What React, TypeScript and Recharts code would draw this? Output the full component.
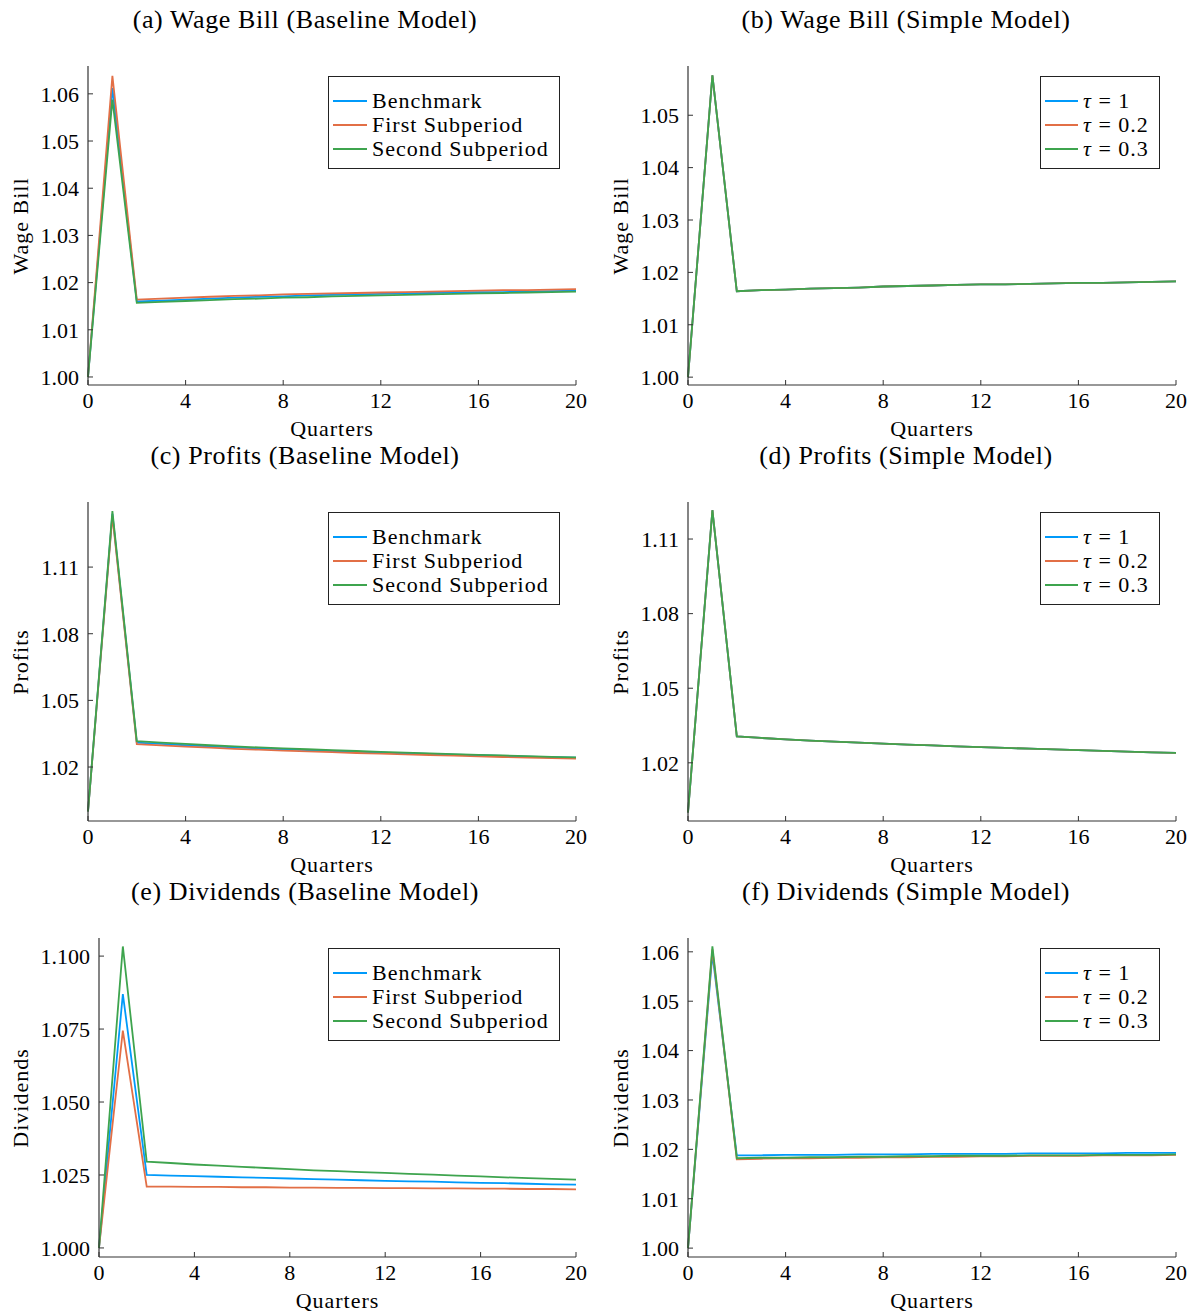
import { LineChart, Line, XAxis, YAxis, Legend } from 'recharts';

// quarters after the shock
const quarters = [0, 1, 2, 3, 4, 5, 6, 7, 8, 9, 10, 11, 12, 13, 14, 15, 16, 17, 18, 19, 20];
const xTicks = [0, 4, 8, 12, 16, 20];

// (a) wage bill, baseline model
const wageBaseBench = [1.0, 1.0612, 1.016, 1.0162, 1.0164, 1.0166, 1.0168, 1.017, 1.0171, 1.0173, 1.0174, 1.0175, 1.0176, 1.0177, 1.0178, 1.0179, 1.018, 1.018, 1.0181, 1.0182, 1.0183];
const wageBaseFirst = [1.0, 1.0638, 1.0164, 1.0166, 1.0168, 1.017, 1.0172, 1.0173, 1.0175, 1.0176, 1.0177, 1.0178, 1.0179, 1.018, 1.0181, 1.0182, 1.0183, 1.0184, 1.0184, 1.0185, 1.0186];
const wageBaseSecond = [1.0, 1.0588, 1.0157, 1.0159, 1.0161, 1.0163, 1.0165, 1.0166, 1.0168, 1.0169, 1.0171, 1.0172, 1.0173, 1.0174, 1.0175, 1.0176, 1.0177, 1.0178, 1.0179, 1.018, 1.0181];

// (b) wage bill, simple model
const wageSimpleTau1 = [1.0, 1.0576, 1.0164, 1.0166, 1.0167, 1.0169, 1.017, 1.0171, 1.0173, 1.0174, 1.0175, 1.0176, 1.0177, 1.0177, 1.0178, 1.0179, 1.018, 1.018, 1.0181, 1.0182, 1.0183];
const wageSimpleTau02 = [1.0, 1.0576, 1.0164, 1.0166, 1.0167, 1.0169, 1.017, 1.0171, 1.0173, 1.0174, 1.0175, 1.0176, 1.0177, 1.0177, 1.0178, 1.0179, 1.018, 1.018, 1.0181, 1.0182, 1.0183];
const wageSimpleTau03 = [1.0, 1.0576, 1.0164, 1.0166, 1.0167, 1.0169, 1.017, 1.0171, 1.0173, 1.0174, 1.0175, 1.0176, 1.0177, 1.0177, 1.0178, 1.0179, 1.018, 1.018, 1.0181, 1.0182, 1.0183];

// (c) profits, baseline model
const profBaseBench = [1.0, 1.134, 1.031, 1.0304, 1.0298, 1.0293, 1.0288, 1.0284, 1.028, 1.0276, 1.0272, 1.0269, 1.0265, 1.0262, 1.0259, 1.0256, 1.0253, 1.025, 1.0247, 1.0244, 1.0242];
const profBaseFirst = [1.0, 1.133, 1.0303, 1.0297, 1.0292, 1.0287, 1.0282, 1.0278, 1.0274, 1.027, 1.0267, 1.0263, 1.026, 1.0257, 1.0254, 1.0251, 1.0248, 1.0245, 1.0242, 1.024, 1.0238];
const profBaseSecond = [1.0, 1.1352, 1.0316, 1.031, 1.0304, 1.0298, 1.0293, 1.0288, 1.0284, 1.028, 1.0276, 1.0272, 1.0268, 1.0265, 1.0261, 1.0258, 1.0255, 1.0252, 1.0249, 1.0246, 1.0243];

// (d) profits, simple model
const profSimpleTau1 = [1.0, 1.1216, 1.0306, 1.03, 1.0294, 1.0289, 1.0285, 1.0281, 1.0277, 1.0273, 1.027, 1.0266, 1.0263, 1.026, 1.0257, 1.0254, 1.0251, 1.0248, 1.0245, 1.0242, 1.024];
const profSimpleTau02 = [1.0, 1.1216, 1.0306, 1.03, 1.0294, 1.0289, 1.0285, 1.0281, 1.0277, 1.0273, 1.027, 1.0266, 1.0263, 1.026, 1.0257, 1.0254, 1.0251, 1.0248, 1.0245, 1.0242, 1.024];
const profSimpleTau03 = [1.0, 1.1216, 1.0306, 1.03, 1.0294, 1.0289, 1.0285, 1.0281, 1.0277, 1.0273, 1.027, 1.0266, 1.0263, 1.026, 1.0257, 1.0254, 1.0251, 1.0248, 1.0245, 1.0242, 1.024];

// (e) dividends, baseline model
const divBaseBench = [1.0, 1.087, 1.025, 1.0248, 1.0246, 1.0244, 1.0242, 1.024, 1.0238, 1.0236, 1.0234, 1.0232, 1.023, 1.0228, 1.0227, 1.0225, 1.0223, 1.0222, 1.022, 1.0218, 1.0217];
const divBaseFirst = [1.0, 1.0745, 1.021, 1.021, 1.0209, 1.0209, 1.0208, 1.0208, 1.0207, 1.0207, 1.0206, 1.0206, 1.0205, 1.0205, 1.0204, 1.0204, 1.0203, 1.0203, 1.0202, 1.0202, 1.0201];
const divBaseSecond = [1.0, 1.1033, 1.0296, 1.0291, 1.0286, 1.0282, 1.0278, 1.0274, 1.027, 1.0266, 1.0263, 1.026, 1.0257, 1.0254, 1.0251, 1.0248, 1.0245, 1.0242, 1.0239, 1.0237, 1.0234];

// (f) dividends, simple model
const divSimpleTau1 = [1.0, 1.0596, 1.0188, 1.0188, 1.0189, 1.0189, 1.0189, 1.019, 1.019, 1.019, 1.0191, 1.0191, 1.0191, 1.0191, 1.0192, 1.0192, 1.0192, 1.0192, 1.0193, 1.0193, 1.0193];
const divSimpleTau02 = [1.0, 1.0605, 1.018, 1.0181, 1.0182, 1.0182, 1.0183, 1.0183, 1.0184, 1.0184, 1.0185, 1.0185, 1.0186, 1.0186, 1.0187, 1.0187, 1.0187, 1.0188, 1.0188, 1.0188, 1.0189];
const divSimpleTau03 = [1.0, 1.0611, 1.0182, 1.0183, 1.0183, 1.0184, 1.0184, 1.0185, 1.0185, 1.0186, 1.0186, 1.0187, 1.0187, 1.0187, 1.0188, 1.0188, 1.0188, 1.0189, 1.0189, 1.0189, 1.019];

const baselineNames = ['Benchmark', 'First Subperiod', 'Second Subperiod'];
const simpleNames = ['τ = 1', 'τ = 0.2', 'τ = 0.3'];

const COLORS = ['#009AFA', '#E26F46', '#3EA44E'];
const FONT = '"Liberation Serif", "Times New Roman", serif';
const AXIS = '#333';

interface PanelSpec {
  col: 0 | 1;
  plotLeft: number;
  plotTop: number;
  plotBottom: number;
  title: string;
  yLabel: string;
  domain: [number, number];
  yTicks: number[];
  digits: number;
  series: number[][];
  names: string[];
  legendWidth: number;
}

const panels: PanelSpec[] = [
  {
    col: 0, plotLeft: 88, plotTop: 66, plotBottom: 385,
    title: '(a) Wage Bill (Baseline Model)', yLabel: 'Wage Bill',
    domain: [0.9983, 1.0659], yTicks: [1.0, 1.01, 1.02, 1.03, 1.04, 1.05, 1.06], digits: 2,
    series: [wageBaseBench, wageBaseFirst, wageBaseSecond], names: baselineNames, legendWidth: 232,
  },
  {
    col: 1, plotLeft: 688, plotTop: 66, plotBottom: 385,
    title: '(b) Wage Bill (Simple Model)', yLabel: 'Wage Bill',
    domain: [0.9985, 1.0594], yTicks: [1.0, 1.01, 1.02, 1.03, 1.04, 1.05], digits: 2,
    series: [wageSimpleTau1, wageSimpleTau02, wageSimpleTau03], names: simpleNames, legendWidth: 120,
  },
  {
    col: 0, plotLeft: 88, plotTop: 502, plotBottom: 821,
    title: '(c) Profits (Baseline Model)', yLabel: 'Profits',
    domain: [0.9957, 1.1393], yTicks: [1.02, 1.05, 1.08, 1.11], digits: 2,
    series: [profBaseBench, profBaseFirst, profBaseSecond], names: baselineNames, legendWidth: 232,
  },
  {
    col: 1, plotLeft: 688, plotTop: 502, plotBottom: 821,
    title: '(d) Profits (Simple Model)', yLabel: 'Profits',
    domain: [0.9966, 1.1249], yTicks: [1.02, 1.05, 1.08, 1.11], digits: 2,
    series: [profSimpleTau1, profSimpleTau02, profSimpleTau03], names: simpleNames, legendWidth: 120,
  },
  {
    col: 0, plotLeft: 99, plotTop: 938, plotBottom: 1257,
    title: '(e) Dividends (Baseline Model)', yLabel: 'Dividends',
    domain: [0.9969, 1.1062], yTicks: [1.0, 1.025, 1.05, 1.075, 1.1], digits: 3,
    series: [divBaseBench, divBaseFirst, divBaseSecond], names: baselineNames, legendWidth: 232,
  },
  {
    col: 1, plotLeft: 688, plotTop: 938, plotBottom: 1257,
    title: '(f) Dividends (Simple Model)', yLabel: 'Dividends',
    domain: [0.9982, 1.0628], yTicks: [1.0, 1.01, 1.02, 1.03, 1.04, 1.05, 1.06], digits: 2,
    series: [divSimpleTau1, divSimpleTau02, divSimpleTau03], names: simpleNames, legendWidth: 120,
  },
];

function legendLabel(value: string) {
  if (value.startsWith('τ')) {
    return (
      <span>
        <span style={{ fontStyle: 'italic' }}>τ</span>
        {value.slice(1)}
      </span>
    );
  }
  return <span>{value}</span>;
}

function Panel({ p }: { p: PanelSpec }) {
  const colX = p.col === 0 ? 0 : 600;
  const colW = p.col === 0 ? 600 : 593;
  const plotRight = p.col === 0 ? 576 : 1176;
  const titleCenter = p.col === 0 ? 305 : 906;
  const boxY = p.plotTop - 20;
  const xAxisH = 40;
  const height = p.plotBottom - boxY + xAxisH;
  const data = quarters.map((q, i) => ({ q, s0: p.series[0][i], s1: p.series[1][i], s2: p.series[2][i] }));
  const legendLeft = (p.col === 0 ? 328 : 1040) - colX;
  const legendTop = p.plotTop + 10 - boxY;

  return (
    <>
      <div
        style={{
          position: 'absolute', left: titleCenter - 300, top: p.plotTop - 59, width: 600,
          textAlign: 'center', fontSize: 26, lineHeight: '26px', letterSpacing: 0.6,
        }}
      >
        {p.title}
      </div>
      <div
        style={{
          position: 'absolute', left: (p.plotLeft + plotRight) / 2 - 100, top: p.plotBottom + 33, width: 200,
          textAlign: 'center', fontSize: 22, lineHeight: '22px', letterSpacing: 1,
        }}
      >
        Quarters
      </div>
      <div
        style={{
          position: 'absolute', left: colX + 21, top: (p.plotTop + p.plotBottom) / 2,
          transform: 'translate(-50%, -50%) rotate(-90deg)', whiteSpace: 'nowrap',
          fontSize: 22, lineHeight: '22px', letterSpacing: 1,
        }}
      >
        {p.yLabel}
      </div>
      <div style={{ position: 'absolute', left: colX, top: boxY }}>
        <LineChart
          width={colW}
          height={height}
          data={data}
          margin={{ top: 20, right: colX + colW - plotRight, bottom: 0, left: 0 }}
        >
          <XAxis
            dataKey="q"
            type="number"
            domain={[0, 20]}
            ticks={xTicks}
            height={xAxisH}
            tickSize={-5}
            tickMargin={12}
            axisLine={{ stroke: AXIS, strokeWidth: 1.2 }}
            tickLine={{ stroke: AXIS }}
            tick={{ fontSize: 22, fill: '#000', fontFamily: FONT }}
          />
          <YAxis
            type="number"
            domain={p.domain}
            allowDataOverflow
            ticks={p.yTicks}
            width={p.plotLeft - colX}
            tickSize={-5}
            tickMargin={14}
            tickFormatter={(v: number) => v.toFixed(p.digits)}
            axisLine={{ stroke: AXIS, strokeWidth: 1.2 }}
            tickLine={{ stroke: AXIS }}
            tick={{ fontSize: 22, fill: '#000', fontFamily: FONT }}
          />
          <Legend
            layout="vertical"
            align="center"
            verticalAlign="middle"
            wrapperStyle={{ left: legendLeft, top: legendTop, width: p.legendWidth }}
            content={(props: any) => {
              const items = [...(props.payload || [])].sort(
                (a: any, b: any) => p.names.indexOf(a.value) - p.names.indexOf(b.value)
              );
              return (
                <div
                  style={{
                    border: '1.2px solid #222', background: '#fff', boxSizing: 'border-box',
                    width: p.legendWidth, padding: '12px 0 7px 4px', fontFamily: FONT,
                  }}
                >
                  {items.map((it: any) => (
                    <div key={it.value} style={{ display: 'flex', alignItems: 'center', height: 24 }}>
                      <span
                        style={{
                          display: 'inline-block', width: p.col === 0 ? 34 : 33, height: 0,
                          borderTop: `2px solid ${it.color}`, marginRight: 5,
                        }}
                      />
                      <span style={{ fontSize: 22, lineHeight: '24px', letterSpacing: 1, whiteSpace: 'nowrap' }}>
                        {legendLabel(it.value)}
                      </span>
                    </div>
                  ))}
                </div>
              );
            }}
          />
          {p.names.map((name, i) => (
            <Line
              key={name}
              type="linear"
              dataKey={`s${i}`}
              name={name}
              stroke={COLORS[i]}
              strokeWidth={1.8}
              dot={false}
              activeDot={false}
              isAnimationActive={false}
            />
          ))}
        </LineChart>
      </div>
    </>
  );
}

export default function App() {
  return (
    <div
      style={{
        position: 'absolute', left: 0, top: 0, width: 1193, height: 1315,
        background: '#fff', fontFamily: FONT, color: '#000',
      }}
    >
      {panels.map((p) => (
        <Panel key={p.title} p={p} />
      ))}
    </div>
  );
}
